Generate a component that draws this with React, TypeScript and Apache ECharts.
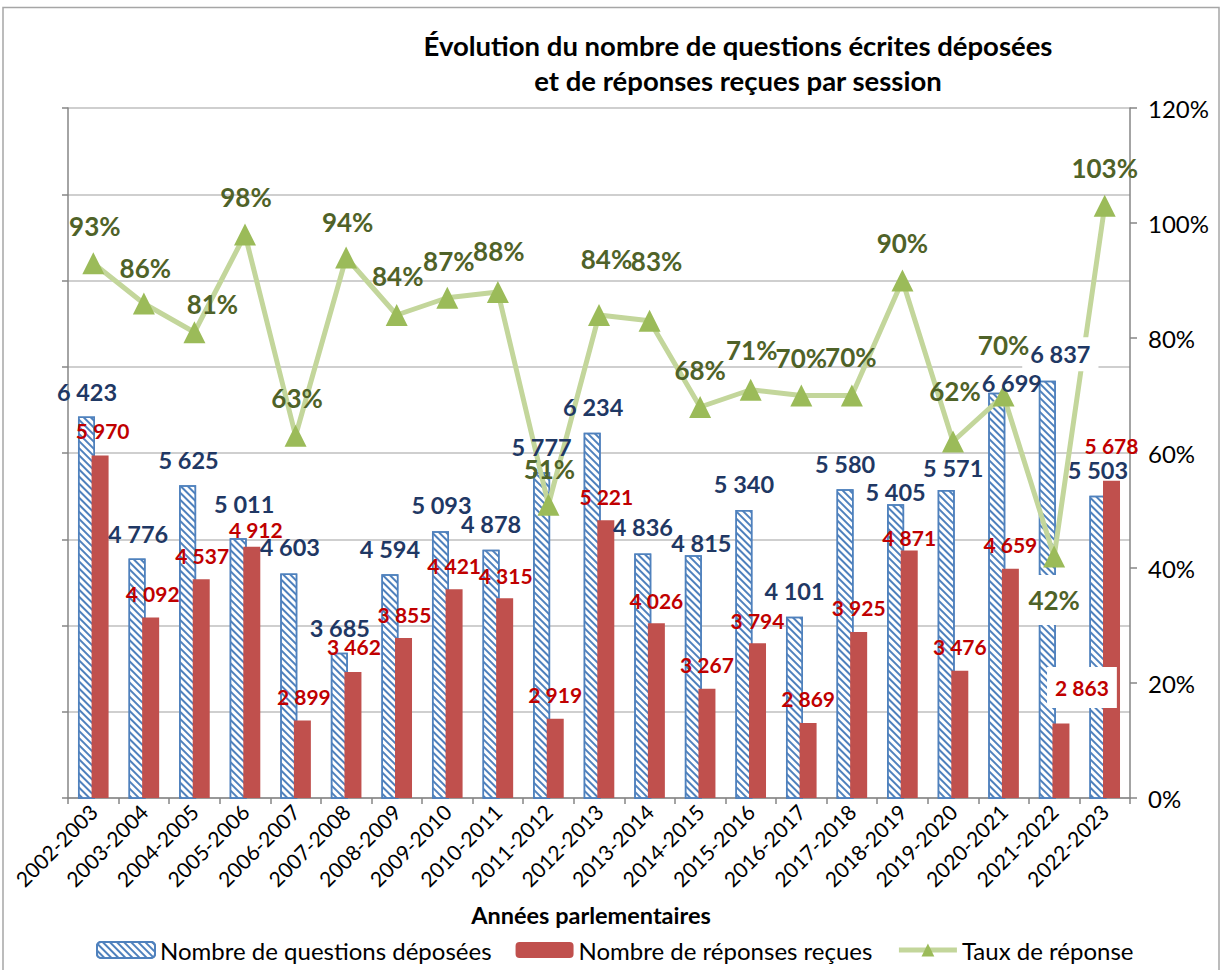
import React, { useEffect, useRef } from 'react';
import * as echarts from 'echarts';

const categories = [
  '2002-2003', '2003-2004', '2004-2005', '2005-2006', '2006-2007', '2007-2008', '2008-2009',
  '2009-2010', '2010-2011', '2011-2012', '2012-2013', '2013-2014', '2014-2015', '2015-2016',
  '2016-2017', '2017-2018', '2018-2019', '2019-2020', '2020-2021', '2021-2022', '2022-2023',
];
const questions = [6423, 4776, 5625, 5011, 4603, 3685, 4594, 5093, 4878, 5777, 6234, 4836, 4815, 5340, 4101, 5580, 5405, 5571, 6699, 6837, 5503];
const responses = [5970, 4092, 4537, 4912, 2899, 3462, 3855, 4421, 4315, 2919, 5221, 4026, 3267, 3794, 2869, 3925, 4871, 3476, 4659, 2863, 5678];
const rates = [93, 86, 81, 98, 63, 94, 84, 87, 88, 51, 84, 83, 68, 71, 70, 70, 90, 62, 70, 42, 103];
const leftTicks = { min: 2000, max: 10000, interval: 1000 };
const rightTicks = { min: 0, max: 120, interval: 20 };

const seriesNames = ['Nombre de questions déposées', 'Nombre de réponses reçues', 'Taux de réponse'];
const titleLines = ['Évolution du nombre de questions écrites déposées', 'et de réponses reçues par session'];
const xAxisName = 'Années parlementaires';

// label placement (layout only): [dx, dy] from bar top / point centre
const blueOffsets = [
  [0.5, -25], [1, -25], [1, -25], [6, -34.5], [1, -26], [0.5, -25], [0, -25], [1, -26], [0, -26], [0, -25.5],
  [1, -25.5], [0, -26], [8, -12], [0, -26], [0, -26], [0, -25], [0, -12], [7, -22.5], [15, -10], [13, -26.5], [0, -26],
];
const redOffsets = [
  [2.5, -25], [2, -24], [1, -24], [4, -17], [1.5, -24], [1, -25], [1, -24], [0, -24], [1, -23], [0, -24],
  [0.5, -23.5], [0, -23], [0, -24], [0, -23], [0, -25], [0, -24], [0, -13], [0, -24], [0, -24.5], [21, -36], [0, -35],
];
const rateOffsets = [
  [1.5, -37.5], [1.5, -36], [18, -28], [1, -37.5], [1.5, -38], [1.5, -36], [1, -39], [1.5, -37], [1, -41], [1, -36],
  [7.5, -56], [7, -60], [0, -37], [1, -39.5], [0, -38], [-1, -39], [0, -38], [2, -51], [0, -50.5], [0, 43.5], [0, -37.5],
];
const boxedIndex = 19;

const FONT = 'Lato, "Noto Sans", sans-serif';
const fmt = (v: number) => String(v).replace(/\B(?=(\d{3})+(?!\d))/g, ' ');

function buildOption() {
  const labelItems = (values: number[], offsets: number[][], pad: number[]) =>
    values.map((v, i) => ({
      value: v,
      label:
        i === boxedIndex
          ? { offset: offsets[i], backgroundColor: '#fff', padding: pad }
          : { offset: offsets[i] },
    }));

  const blueLabelData = labelItems(questions, blueOffsets, [5, 8]);
  const redLabelData = labelItems(responses, redOffsets, [10, 8]);
  const rateLabelData = labelItems(rates, rateOffsets, [12, 8]);

  const axisGray = '#868686';
  const lineGreen = '#c3d69b';
  const markerGreen = '#9bbb59';
  const hatch = {
    symbol: 'rect',
    symbolSize: 1,
    color: '#4f81bd',
    dashArrayX: [1, 0],
    dashArrayY: [1.4, 2.2],
    rotation: Math.PI / 4,
  };
  const barLabel = (color: string, size: number) => ({
    show: true,
    position: ['50%', 0],
    align: 'center',
    verticalAlign: 'middle',
    formatter: (p: any) => fmt(p.value),
    color,
    fontFamily: FONT,
    fontWeight: 'bold',
    fontSize: size,
  });
  const transparent = 'rgba(0,0,0,0)';

  return {
    animation: false,
    backgroundColor: '#fff',
    textStyle: { fontFamily: FONT },
    grid: { left: 68, right: 96, top: 108, bottom: 172, containLabel: false, outerBoundsMode: 'none' },
    legend: {
      left: 96,
      top: 938,
      padding: 0,
      itemWidth: 58,
      itemHeight: 16,
      itemGap: 24,
      data: [
        seriesNames[0],
        seriesNames[1],
        {
          name: seriesNames[2],
          lineStyle: { width: 5, color: lineGreen },
          itemStyle: { color: markerGreen },
        },
      ],
      textStyle: { fontSize: 24, fontFamily: FONT, color: '#000' },
    },
    xAxis: [
      {
        type: 'category',
        data: categories,
        axisLine: { lineStyle: { color: axisGray, width: 1.5 } },
        axisTick: { show: true, length: 6, lineStyle: { color: axisGray, width: 1.5 } },
        axisLabel: { rotate: 45, interval: 0, fontSize: 21, color: '#000', fontFamily: FONT, margin: 10 },
      },
      { type: 'category', data: categories, show: false },
    ],
    yAxis: [
      {
        type: 'value',
        position: 'left',
        min: leftTicks.min,
        max: leftTicks.max,
        interval: leftTicks.interval,
        axisLabel: { show: false },
        axisLine: { show: true, lineStyle: { color: axisGray, width: 1.5 } },
        axisTick: { show: true, length: 6, lineStyle: { color: axisGray, width: 1.5 } },
        splitLine: { show: true, lineStyle: { color: '#bfbfbf', width: 1.5 } },
      },
      {
        type: 'value',
        position: 'right',
        min: rightTicks.min,
        max: rightTicks.max,
        interval: rightTicks.interval,
        axisLabel: { formatter: '{value}%', color: '#000', fontSize: 24, fontFamily: FONT, margin: 18 },
        axisLine: { show: true, lineStyle: { color: axisGray, width: 1.5 } },
        axisTick: { show: true, length: 7, lineStyle: { color: axisGray, width: 1.5 } },
        splitLine: { show: false },
      },
    ],
    series: [
      {
        name: seriesNames[0],
        type: 'bar',
        xAxisIndex: 0,
        yAxisIndex: 0,
        barWidth: 17,
        barGap: '-20%',
        data: questions,
        itemStyle: { color: '#ffffff', borderColor: '#4f81bd', borderWidth: 1.5, decal: hatch },
        z: 1,
      },
      {
        name: seriesNames[1],
        type: 'bar',
        xAxisIndex: 0,
        yAxisIndex: 0,
        barWidth: 17,
        barGap: '-20%',
        data: responses,
        itemStyle: { color: '#c0504d' },
        z: 1,
      },
      {
        name: seriesNames[2],
        type: 'line',
        yAxisIndex: 1,
        data: rates,
        symbol: 'triangle',
        symbolSize: 22,
        lineStyle: { color: lineGreen, width: 5 },
        itemStyle: { color: markerGreen },
        z: 3,
      },
      {
        name: 'labels-questions',
        type: 'bar',
        xAxisIndex: 1,
        yAxisIndex: 0,
        barWidth: 17,
        barGap: '-20%',
        silent: true,
        z: 5,
        data: blueLabelData,
        itemStyle: { color: transparent },
        emphasis: { disabled: true },
        label: barLabel('#1f3864', 23.5),
      },
      {
        name: 'labels-responses',
        type: 'bar',
        xAxisIndex: 1,
        yAxisIndex: 0,
        barWidth: 17,
        barGap: '-20%',
        silent: true,
        z: 5,
        data: redLabelData,
        itemStyle: { color: transparent },
        emphasis: { disabled: true },
        label: barLabel('#c00000', 21),
      },
      {
        name: 'labels-rates',
        type: 'line',
        yAxisIndex: 1,
        silent: true,
        z: 6,
        data: rateLabelData,
        symbol: 'circle',
        symbolSize: 1,
        lineStyle: { opacity: 0, width: 0 },
        itemStyle: { color: transparent },
        emphasis: { disabled: true },
        label: {
          show: true,
          position: 'inside',
          align: 'center',
          verticalAlign: 'middle',
          formatter: (p: any) => p.value + '%',
          color: '#4f6228',
          fontFamily: FONT,
          fontWeight: 'bold',
          fontSize: 26,
        },
      },
    ],
    graphic: [
      {
        type: 'rect',
        silent: true,
        shape: { x: 3, y: 7.5, width: 1216, height: 1000 },
        style: { fill: 'none', stroke: '#a6a6a6', lineWidth: 1.5 },
      },
      {
        type: 'text',
        x: 738,
        y: 45,
        style: { text: titleLines[0], align: 'center', verticalAlign: 'middle', font: `bold 27.5px ${FONT}`, fill: '#000' },
      },
      {
        type: 'text',
        x: 738,
        y: 80,
        style: { text: titleLines[1], align: 'center', verticalAlign: 'middle', font: `bold 27.5px ${FONT}`, fill: '#000' },
      },
      {
        type: 'text',
        x: 591,
        y: 915,
        style: { text: xAxisName, align: 'center', verticalAlign: 'middle', font: `bold 23.5px ${FONT}`, fill: '#000' },
      },
    ],
  };
}

export default function App() {
  const ref = useRef<HTMLDivElement>(null);
  useEffect(() => {
    if (!ref.current) return;
    const chart = echarts.init(ref.current, null, { renderer: 'svg' });
    chart.setOption(buildOption() as any);
    return () => chart.dispose();
  }, []);
  return (
    <div
      ref={ref}
      style={{ position: 'absolute', left: 0, top: 0, width: 1226, height: 970, background: '#fff' }}
    />
  );
}
